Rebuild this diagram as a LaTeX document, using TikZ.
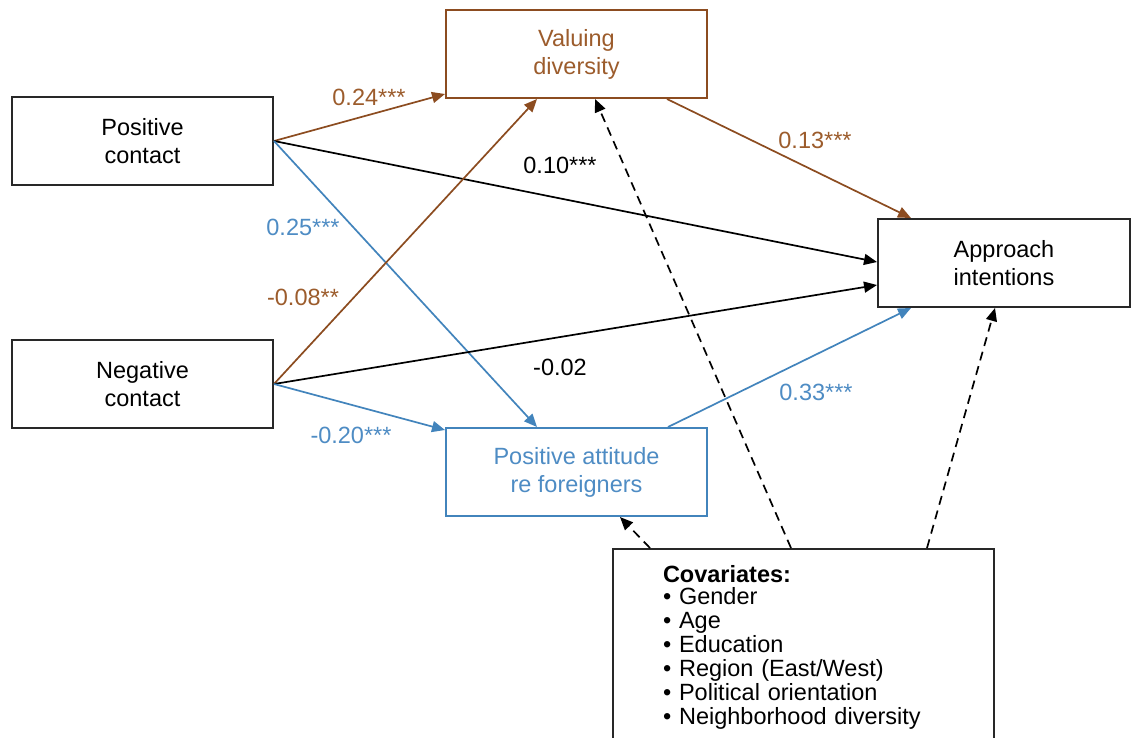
\documentclass[tikz,border=0pt]{standalone}
\usepackage{fontspec}
\setmainfont{Liberation Sans}
\usetikzlibrary{arrows.meta,calc}
\definecolor{brn}{RGB}{140,76,32}
\definecolor{brntxt}{RGB}{156,92,44}
\definecolor{blu}{RGB}{66,132,188}
\definecolor{blutxt}{RGB}{78,140,196}
\definecolor{boxgray}{RGB}{40,40,40}
\begin{document}
\begin{tikzpicture}[x=1pt,y=-1pt,
  every node/.style={font=\fontsize{23.5}{28}\selectfont},
  varbox/.style={draw=boxgray,line width=2pt,minimum width=261pt,minimum height=88pt,inner sep=0pt,align=center},
  conn/.style={line width=1.7pt,-{Triangle[length=13pt,width=11pt]}},
  dconn/.style={conn,dash pattern=on 9pt off 6pt},
  lab/.style={inner sep=0pt}
]
\path[use as bounding box,clip] (0,0) rectangle (1135,737);
\fill[white] (0,0) rectangle (1135,737);

\node[varbox] (pc) at (142.5,141) {Positive\\contact};
\node[varbox] (nc) at (142.5,384) {Negative\\contact};
\node[varbox,draw=brn,text=brntxt] (vd) at (576.5,54) {Valuing\\diversity};
\node[varbox,minimum width=252pt] (ai) at (1004,263) {Approach\\intentions};
\node[varbox,draw=blu,text=blutxt] (pa) at (576.5,472) {Positive attitude\\re foreigners};
\node[draw=boxgray,line width=2pt,anchor=north west,minimum width=381pt,minimum height=196pt,inner sep=0pt,
  text width=281pt,align=left,font=\fontsize{23.5}{24}\selectfont] (cov) at (612,548)
  {\textbf{Covariates:}\\[-2pt]• Gender\\• Age\\• Education\\• Region (East/West)\\• Political orientation\\• Neighborhood diversity};

% connectors
\draw[conn,brn] (pc.east) -- ([yshift=5pt]vd.south west);
\draw[conn,black] (pc.east) -- ([yshift=1pt]ai.west);
\draw[conn,blu] (pc.east) -- ([xshift=-39.5pt]pa.north);
\draw[conn,brn] (nc.east) -- ([xshift=-39.5pt]vd.south);
\draw[conn,black] (nc.east) -- ([yshift=-22pt]ai.west);
\draw[conn,blu] (nc.east) -- ([yshift=-3pt]pa.north west);
\draw[conn,brn] ([xshift=90.5pt]vd.south) -- ([xshift=34pt]ai.north west);
\draw[conn,blu] ([xshift=91.5pt]pa.north) -- ([xshift=34pt]ai.south west);
\draw[dconn] ([xshift=38pt]cov.north west) -- ([xshift=43.5pt]pa.south);
\draw[dconn] ([xshift=-12.5pt]cov.north) -- ([xshift=18.5pt]vd.south);
\draw[dconn] ([xshift=-68pt]cov.north east) -- ([xshift=-9pt]ai.south);

% labels
\node[lab,text=brntxt] (l1) at (369,97) {0.24***};
\node[lab] (l2) at (560,165) {0.10***};
\node[lab,text=blutxt] (l3) at (303,227) {0.25***};
\node[lab,text=brntxt] (l4) at (303,297) {-0.08**};
\node[lab] (l5) at (560,367) {-0.02};
\node[lab,text=blutxt] (l6) at (351,435) {-0.20***};
\node[lab,text=brntxt] (l7) at (815,140) {0.13***};
\node[lab,text=blutxt] (l8) at (816,392) {0.33***};
\end{tikzpicture}
\end{document}
